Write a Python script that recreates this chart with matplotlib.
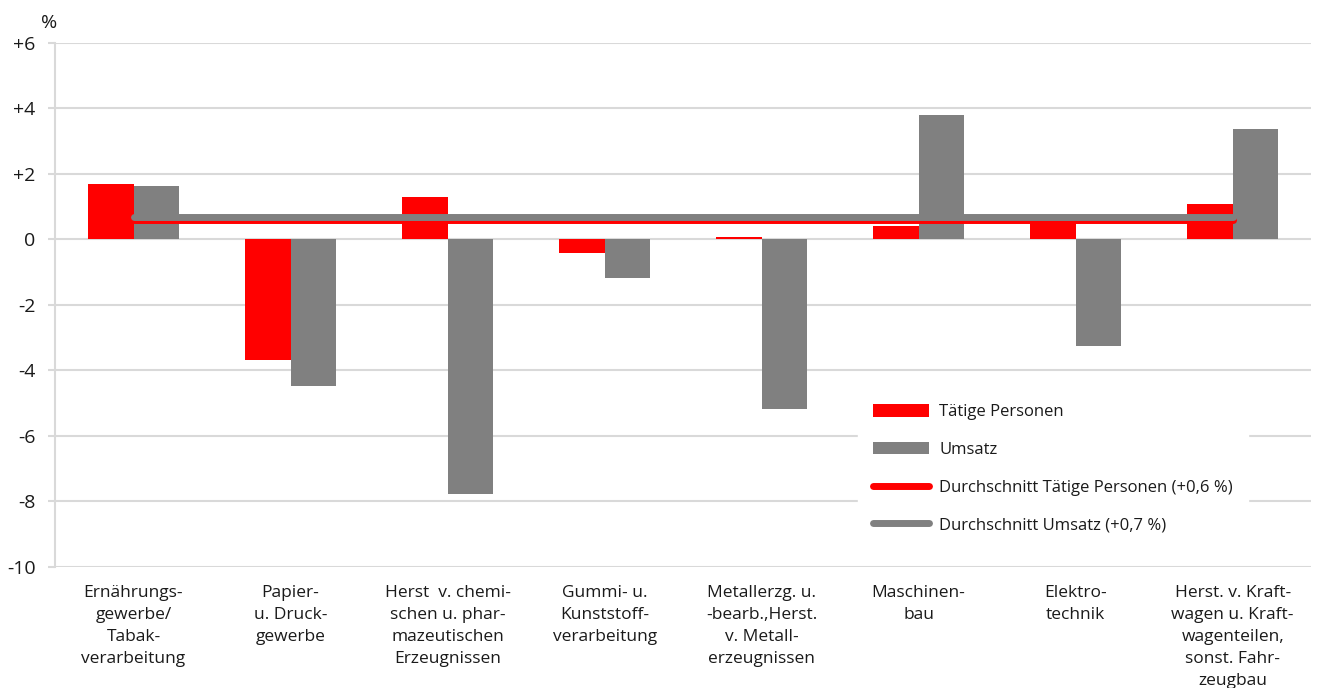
import matplotlib
matplotlib.use("Agg")
import matplotlib.pyplot as plt
import numpy as np

# Daten
kategorien = [
    "Ernährungs-\ngewerbe/\nTabak-\nverarbeitung",
    "Papier-\nu. Druck-\ngewerbe",
    "Herst  v. chemi-\nschen u. phar-\nmazeutischen\nErzeugnissen",
    "Gummi- u.\nKunststoff-\nverarbeitung",
    "Metallerzg. u.\n-bearb.,Herst.\nv. Metall-\nerzeugnissen",
    "Maschinen-\nbau",
    "Elektro-\ntechnik",
    "Herst. v. Kraft-\nwagen u. Kraft-\nwagenteilen,\nsonst. Fahr-\nzeugbau",
]
taetige_personen = [1.70, -3.69, 1.31, -0.41, 0.09, 0.40, 0.76, 1.07]
umsatz = [1.64, -4.48, -7.77, -1.17, -5.18, 3.79, -3.25, 3.36]
avg_personen = 0.6
avg_umsatz = 0.7
yticks = [6, 4, 2, 0, -2, -4, -6, -8, -10]
ytick_labels = ["+6", "+4", "+2", "0", "-2", "-4", "-6", "-8", "-10"]

plt.rcParams['font.family'] = ['Open Sans', 'DejaVu Sans']

fig = plt.figure(figsize=(13.23, 6.88), dpi=100)
ax = fig.add_axes([0.0416, 0.176, 0.9495, 0.7615])

x = np.arange(len(kategorien))
w = 0.29
b1 = ax.bar(x - w / 2, taetige_personen, w, color="#ff0000", label="Tätige Personen", zorder=3)
b2 = ax.bar(x + w / 2, umsatz, w, color="#808080", label="Umsatz", zorder=3)

l1, = ax.plot(x, [avg_personen] * len(x), color="#ff0000", lw=5,
              solid_capstyle="round", label="Durchschnitt Tätige Personen (+0,6 %)", zorder=4)
l2, = ax.plot(x, [avg_umsatz] * len(x), color="#808080", lw=5,
              solid_capstyle="round", label="Durchschnitt Umsatz (+0,7 %)", zorder=5)

ax.set_xlim(-0.5, len(kategorien) - 0.5)
ax.set_ylim(-10, 6)
ax.set_yticks(yticks)
ax.set_yticklabels(ytick_labels, fontsize=14, color="#1a1a1a")
ax.yaxis.grid(True, color="#d9d9d9", lw=1.5, zorder=0)
ax.set_axisbelow(True)

ax.set_xticks(x)
ax.set_xticklabels(kategorien, fontsize=12.5, color="#1a1a1a", linespacing=1.5, va="top")
ax.tick_params(axis="x", length=0, pad=13)
ax.tick_params(axis="y", length=5, color="#d9d9d9", width=1.5, pad=9)

for s in ["top", "right", "bottom"]:
    ax.spines[s].set_visible(False)
ax.spines["left"].set_color("#d9d9d9")
ax.spines["left"].set_linewidth(1.5)

fig.text(0.031, 0.967, "%", fontsize=14, color="#1a1a1a", ha="left", va="center")

leg = ax.legend([b1, b2, l1, l2], [b1.get_label(), b2.get_label(), l1.get_label(), l2.get_label()],
                loc="upper left", bbox_to_anchor=(0.639, 0.34), frameon=True,
                fontsize=12, handlelength=3.4, handleheight=0.8,
                labelspacing=1.3, borderpad=0.9, handletextpad=0.6, borderaxespad=0)
leg.get_frame().set_facecolor("white")
leg.get_frame().set_edgecolor("white")
leg.get_frame().set_alpha(1)
leg.set_zorder(10)
for t in leg.get_texts():
    t.set_color("#1a1a1a")

fig.savefig("out.png", dpi=100)
